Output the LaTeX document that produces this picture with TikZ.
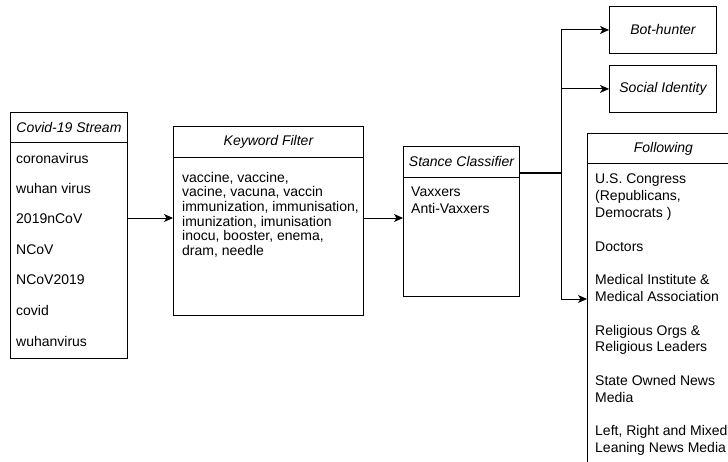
\documentclass[tikz,border=0pt]{standalone}
\usepackage{fontspec}
\setmainfont{Liberation Sans}
\usetikzlibrary{arrows.meta,positioning}

\begin{document}
\begin{tikzpicture}[x=1pt, y=-1pt,
        every node/.style={font=\fontsize{14}{16.8}\selectfont, inner sep=0pt},
        bodycell/.style={draw, line width=0.9pt, rectangle, anchor=north west},
        headcell/.style={bodycell, font=\fontsize{14}{16.8}\selectfont\itshape},
        itemtext/.style={anchor=west},
        listtext/.style={anchor=north west, align=left},
        flow/.style={-{Stealth[length=9pt,width=8pt,inset=2.5pt]}, line width=0.9pt}]
        \useasboundingbox (0,0) rectangle (728,462);
        \clip (0,0) rectangle (728,462);
        % Stream
        \node[headcell, minimum width=117pt, minimum height=30pt] (covidhead) at (10,112) {Covid-19 Stream};
        \node[bodycell, minimum width=117pt, minimum height=216pt] (covid) at (10,142) {};
        \foreach \word [count=\i] in {coronavirus, wuhan virus, 2019nCoV, NCoV, NCoV2019, covid, wuhanvirus}
            \node[itemtext] (covid\i) at (16, 127.5+30.5*\i) {\word};
        % Keyword filter
        \node[headcell, minimum width=190pt, minimum height=31.5pt] (keywordhead) at (173,126) {Keyword Filter};
        \node[bodycell, minimum width=190pt, minimum height=157.5pt] (keyword) at (173,157.5) {};
        \node[listtext, font=\fontsize{14}{14.6}\selectfont] (keywordlist) at (182,172)
            {vaccine, vaccine,\\ vacine, vacuna, vaccin\\ immunization, immunisation,\\
             imunization, imunisation\\ inocu, booster, enema,\\ dram, needle};
        % Stance classifier
        \node[headcell, minimum width=116pt, minimum height=31pt] (stancehead) at (403,146) {Stance Classifier};
        \node[bodycell, minimum width=116pt, minimum height=119pt] (stance) at (403,177) {};
        \node[listtext] (stancelist) at (411,187) {Vaxxers\\ Anti-Vaxxers};
        % Outputs
        \node[headcell, minimum width=107pt, minimum height=47pt] (bothunter) at (609,6) {Bot-hunter};
        \node[headcell, minimum width=107pt, minimum height=47pt] (socialid) at (609,65) {Social Identity};
        \node[headcell, minimum width=152pt, minimum height=30pt] (followhead) at (587,133) {Following};
        \node[bodycell, minimum width=152pt, minimum height=320pt] (follow) at (587,163) {};
        \node[listtext] (followlist) at (595,174)
            {U.S. Congress\\ (Republicans,\\ Democrats )\\[16.8pt] Doctors\\[16.8pt]
             Medical Institute \&\\ Medical Association\\[16.8pt] Religious Orgs \&\\ Religious Leaders\\[16.8pt]
             State Owned News\\ Media\\[16.8pt] Left, Right and Mixed\\ Leaning News Media};
        % Connectors
        \coordinate (keywordin) at (173,218);
        \coordinate (stancein) at (403,218);
        \coordinate (split) at (561,173);
        \coordinate (followin) at (587,299);
        \draw[flow] (covid.east |- keywordin) -- (keywordin);
        \draw[flow] (keyword.east |- stancein) -- (stancein);
        \draw[line width=2pt] (stancehead.east |- split) -- (split);
        \draw[flow] (split) |- (bothunter);
        \draw[flow] (split) |- (socialid);
        \draw[flow] (split) |- (followin);
    \end{tikzpicture}
\end{document}
